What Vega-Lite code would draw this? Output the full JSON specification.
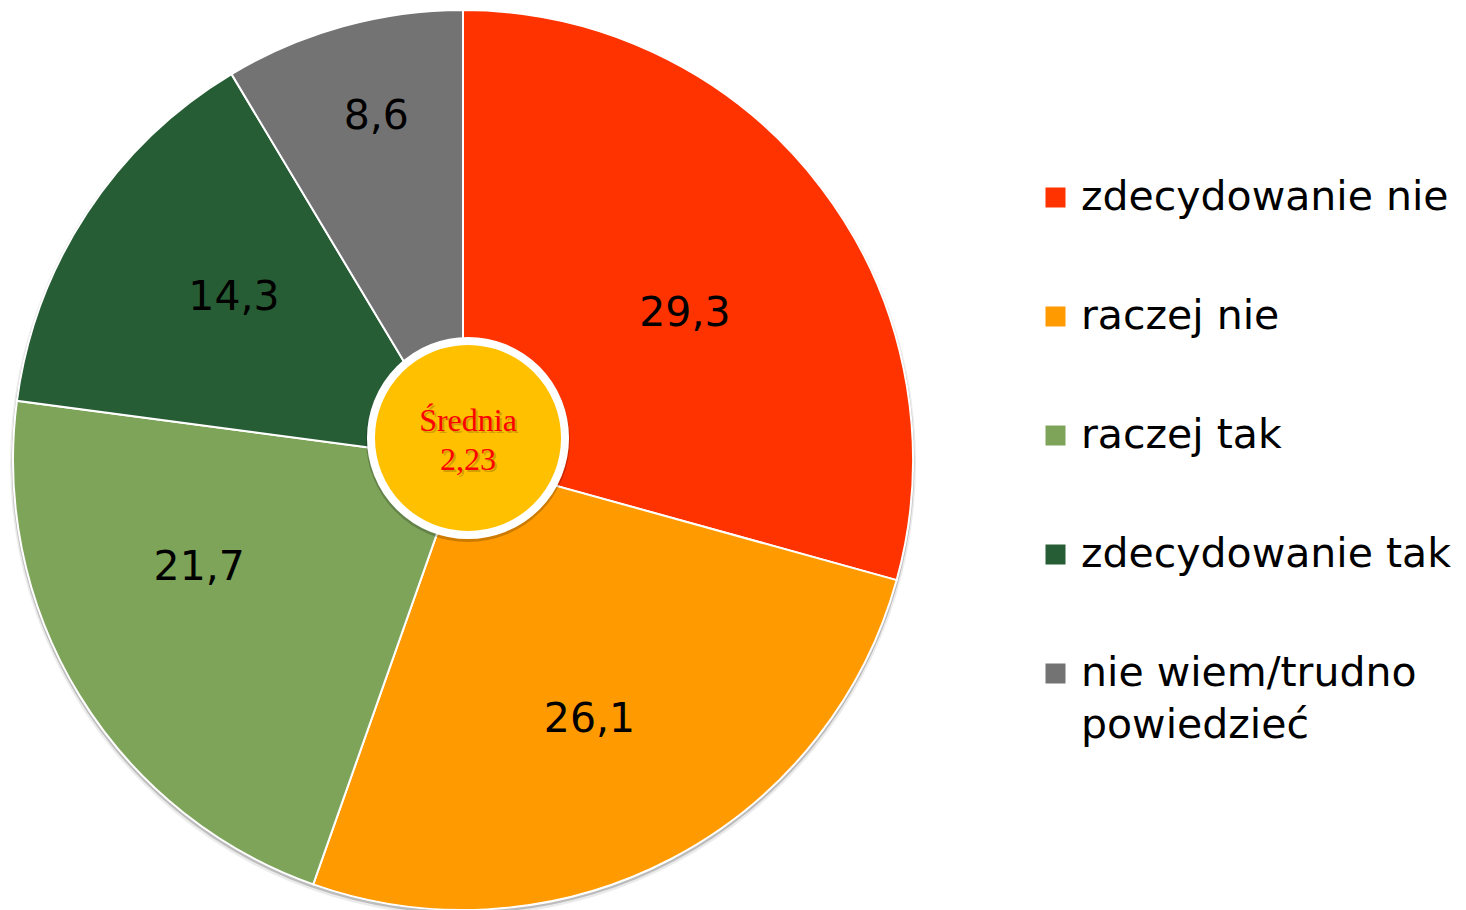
{
  "$schema": "https://vega.github.io/schema/vega-lite/v6.json",
  "width": 926,
  "height": 920,
  "padding": 0,
  "autosize": {"type": "pad"},
  "background": "white",
  "config": {"view": {"stroke": null}, "style": {"guide-label": {"lineHeight": 52}}},
  "datasets": {
    "pie": [
      {"idx": 1, "category": "zdecydowanie nie", "value": 29.3, "label": "29,3"},
      {"idx": 2, "category": "raczej nie", "value": 26.1, "label": "26,1"},
      {"idx": 3, "category": "raczej tak", "value": 21.7, "label": "21,7"},
      {"idx": 4, "category": "zdecydowanie tak", "value": 14.3, "label": "14,3"},
      {"idx": 5, "category": "nie wiem/trudno powiedzieć", "value": 8.6, "label": "8,6"}
    ],
    "center": [{"label": "Średnia\n2,23"}]
  },
  "layer": [
    {
      "data": {"name": "center"},
      "mark": {"type": "arc", "theta": 0, "theta2": 6.2832, "radius": 453, "fill": "#000000", "opacity": 0.08, "yOffset": 3},
      "encoding": {}
    },
    {
      "data": {"name": "center"},
      "mark": {"type": "arc", "theta": 0, "theta2": 6.2832, "radius": 451.5, "fill": "#000000", "opacity": 0.2, "yOffset": 2},
      "encoding": {}
    },
    {
      "data": {"name": "pie"},
      "mark": {"type": "arc", "outerRadius": 450, "stroke": "white", "strokeWidth": 2},
      "encoding": {
        "theta": {"field": "value", "type": "quantitative", "stack": true},
        "order": {"field": "idx", "type": "quantitative"},
        "color": {
          "field": "category",
          "type": "nominal",
          "scale": {
            "domain": ["zdecydowanie nie", "raczej nie", "raczej tak", "zdecydowanie tak", "nie wiem/trudno powiedzieć"],
            "range": ["#FF3300", "#FF9A00", "#7EA45A", "#265D35", "#737373"]
          },
          "legend": {
            "title": null,
            "orient": "none",
            "legendX": 1035,
            "legendY": 177,
            "padding": 0,
            "symbolType": "square",
            "symbolSize": 400,
            "symbolStrokeWidth": 0,
            "labelFont": "DejaVu Sans",
            "labelFontSize": 41,
            "labelColor": "black",
            "labelOffset": 5,
            "labelLimit": 600,
            "rowPadding": 77,
            "labelExpr": "datum.label == 'nie wiem/trudno powiedzieć' ? ['nie wiem/trudno', 'powiedzieć'] : datum.label"
          }
        }
      }
    },
    {
      "data": {"name": "pie"},
      "mark": {"type": "text", "radius": 280, "font": "DejaVu Sans", "fontSize": 41, "color": "black", "dx": -1, "dy": 24},
      "encoding": {
        "theta": {"field": "value", "type": "quantitative", "stack": true},
        "order": {"field": "idx", "type": "quantitative"},
        "text": {"condition": {"test": "datum.idx != 1", "value": ""}, "field": "label", "type": "nominal"}
      }
    },
    {
      "data": {"name": "pie"},
      "mark": {"type": "text", "radius": 280, "font": "DejaVu Sans", "fontSize": 41, "color": "black", "dx": -3, "dy": 12},
      "encoding": {
        "theta": {"field": "value", "type": "quantitative", "stack": true},
        "order": {"field": "idx", "type": "quantitative"},
        "text": {"condition": {"test": "datum.idx != 2", "value": ""}, "field": "label", "type": "nominal"}
      }
    },
    {
      "data": {"name": "pie"},
      "mark": {"type": "text", "radius": 280, "font": "DejaVu Sans", "fontSize": 41, "color": "black", "dx": -25, "dy": -38},
      "encoding": {
        "theta": {"field": "value", "type": "quantitative", "stack": true},
        "order": {"field": "idx", "type": "quantitative"},
        "text": {"condition": {"test": "datum.idx != 3", "value": ""}, "field": "label", "type": "nominal"}
      }
    },
    {
      "data": {"name": "pie"},
      "mark": {"type": "text", "radius": 280, "font": "DejaVu Sans", "fontSize": 41, "color": "black", "dx": 5, "dy": -8},
      "encoding": {
        "theta": {"field": "value", "type": "quantitative", "stack": true},
        "order": {"field": "idx", "type": "quantitative"},
        "text": {"condition": {"test": "datum.idx != 4", "value": ""}, "field": "label", "type": "nominal"}
      }
    },
    {
      "data": {"name": "pie"},
      "mark": {"type": "text", "radius": 355, "font": "DejaVu Sans", "fontSize": 41, "color": "black", "dx": 8, "dy": -1},
      "encoding": {
        "theta": {"field": "value", "type": "quantitative", "stack": true},
        "order": {"field": "idx", "type": "quantitative"},
        "text": {"condition": {"test": "datum.idx != 5", "value": ""}, "field": "label", "type": "nominal"}
      }
    },
    {
      "data": {"name": "center"},
      "mark": {"type": "arc", "theta": 0, "theta2": 6.2832, "radius": 102, "fill": "#000000", "opacity": 0.2, "xOffset": 5, "yOffset": -20},
      "encoding": {}
    },
    {
      "data": {"name": "center"},
      "mark": {"type": "arc", "theta": 0, "theta2": 6.2832, "radius": 97, "fill": "#FFC000", "stroke": "white", "strokeWidth": 8, "xOffset": 5, "yOffset": -22},
      "encoding": {}
    },
    {
      "data": {"name": "center"},
      "mark": {"type": "text", "font": "Liberation Serif", "fontSize": 32, "lineBreak": "\n", "lineHeight": 39, "color": "#806000", "opacity": 0.35, "align": "center", "baseline": "middle", "xOffset": 7, "yOffset": -37},
      "encoding": {"text": {"field": "label", "type": "nominal"}}
    },
    {
      "data": {"name": "center"},
      "mark": {"type": "text", "font": "Liberation Serif", "fontSize": 32, "lineBreak": "\n", "lineHeight": 39, "color": "#FF0000", "align": "center", "baseline": "middle", "xOffset": 5, "yOffset": -39},
      "encoding": {"text": {"field": "label", "type": "nominal"}}
    }
  ]
}
